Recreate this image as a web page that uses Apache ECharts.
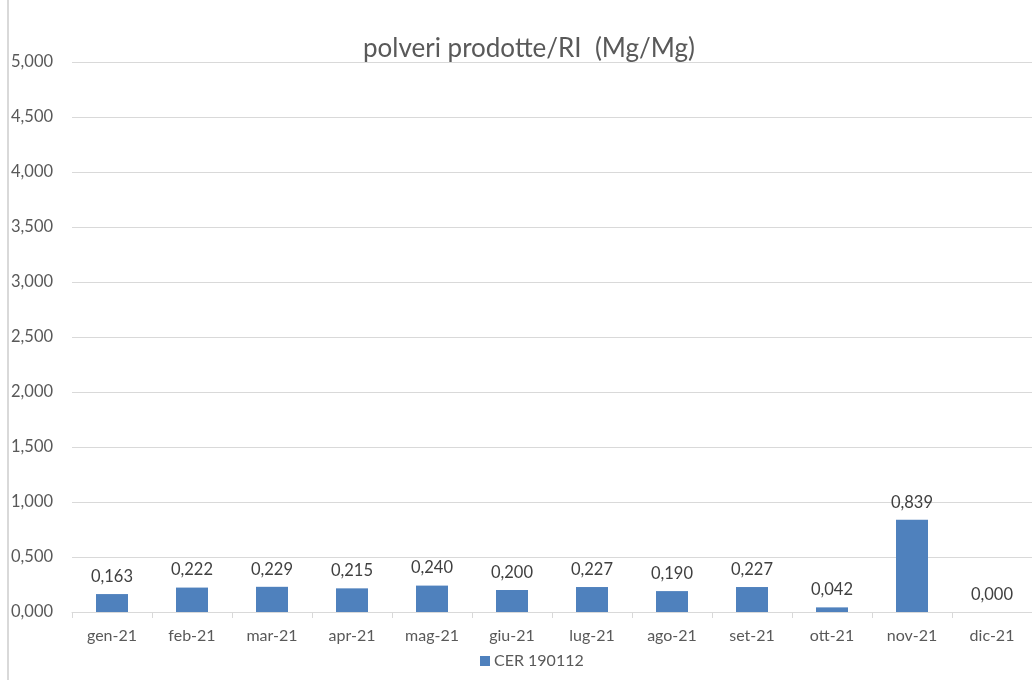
<!DOCTYPE html>
<html>
<head>
<meta charset="utf-8">
<script src="https://cdn.jsdelivr.net/npm/echarts@6/dist/echarts.min.js"></script>
<style>
  html, body { margin: 0; padding: 0; background: #fff; }
  #chart { width: 1032px; height: 680px; }
</style>
</head>
<body>
<div id="chart"></div>
<script>
// Monthly ratio of dust produced to incoming waste (Mg/Mg), 2021
const months = ['gen-21', 'feb-21', 'mar-21', 'apr-21', 'mag-21', 'giu-21',
                'lug-21', 'ago-21', 'set-21', 'ott-21', 'nov-21', 'dic-21'];
const cer190112 = [0.163, 0.222, 0.229, 0.215, 0.240, 0.200,
                   0.227, 0.190, 0.227, 0.042, 0.839, 0.000];
const seriesName = 'CER 190112';
const chartTitle = 'polveri prodotte/RI  (Mg/Mg)';

// Italian decimal comma, three decimals
const fmt = v => Number(v).toFixed(3).replace('.', ',');

const FONT = 'Lato, "Open Sans", sans-serif';
const chart = echarts.init(document.getElementById('chart'));
chart.setOption({
  animation: false,
  backgroundColor: '#ffffff',
  textStyle: { fontFamily: FONT },
  title: {
    text: chartTitle,
    left: 524,
    top: 31,
    textAlign: 'center',
    textStyle: { fontFamily: FONT, fontSize: 26, fontWeight: 'normal', color: '#595959' }
  },
  legend: {
    data: [seriesName],
    left: 475,
    top: 648,
    itemWidth: 10,
    itemHeight: 10,
    itemGap: 4,
    icon: 'rect',
    textStyle: { fontFamily: FONT, fontSize: 16, color: '#595959', padding: [0, 0, 0, -1] }
  },
  grid: { left: 72, right: 0, top: 62, bottom: 68, containLabel: false },
  xAxis: {
    type: 'category',
    data: months,
    axisLine: { lineStyle: { color: '#d9d9d9', width: 1 } },
    axisTick: { show: true, length: 6, lineStyle: { color: '#d9d9d9' } },
    axisLabel: { fontFamily: FONT, fontSize: 16, color: '#595959', margin: 16 }
  },
  yAxis: {
    type: 'value',
    min: 0,
    max: 5,
    interval: 0.5,
    axisLine: { show: false },
    axisTick: { show: false },
    splitLine: { lineStyle: { color: '#d9d9d9', width: 1 } },
    axisLabel: {
      fontFamily: FONT, fontSize: 16.5, color: '#595959',
      align: 'left', margin: 61,
      formatter: fmt
    }
  },
  series: [{
    name: seriesName,
    type: 'bar',
    data: cer190112,
    barWidth: 32,
    itemStyle: { color: '#4f81bd' },
    label: {
      show: true,
      position: 'top',
      distance: 9,
      fontFamily: FONT,
      fontSize: 16.5,
      color: '#404040',
      formatter: p => fmt(p.value)
    }
  }],
  graphic: [{
    type: 'line',
    shape: { x1: 8, y1: 0, x2: 8, y2: 680 },
    style: { stroke: '#d9d9d9', lineWidth: 2 }
  }]
});
</script>
</body>
</html>
